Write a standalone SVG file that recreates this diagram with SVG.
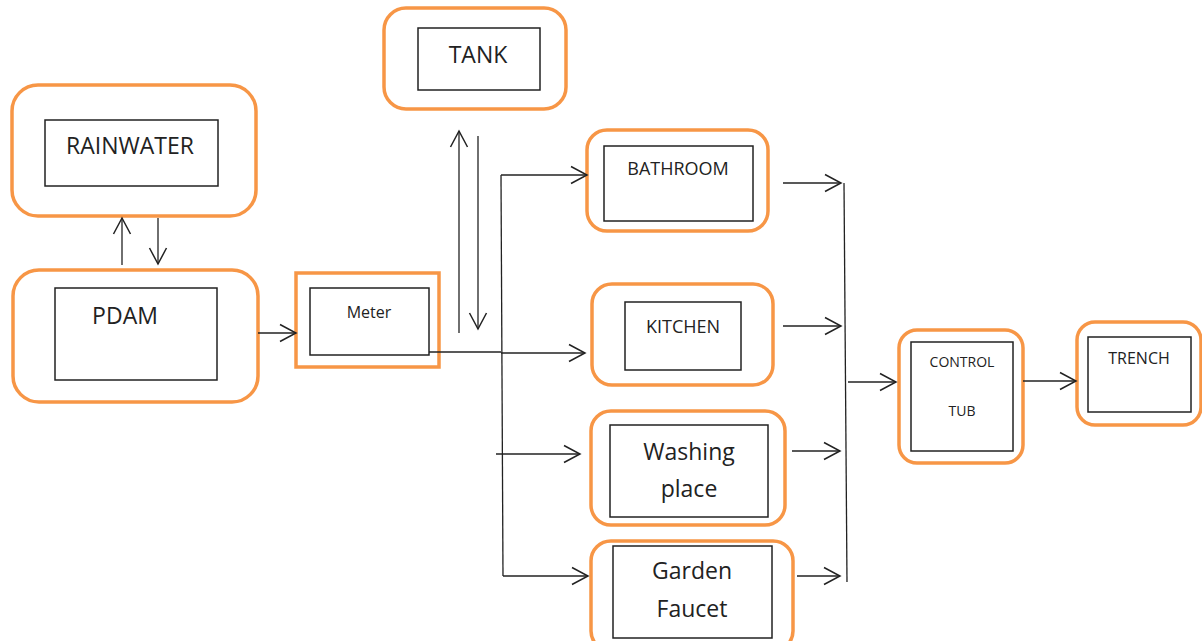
<svg xmlns="http://www.w3.org/2000/svg" width="1202" height="641" viewBox="0 0 1202 641">
<defs>
<marker id="arr" markerUnits="userSpaceOnUse" markerWidth="20" markerHeight="20" viewBox="0 0 20 20" refX="17" refY="10" orient="auto">
<path d="M1,1.5 L17,10 L1,18.5" fill="none" stroke="#222" stroke-width="1.5"/>
</marker>
<style>
.outer{fill:#fff;stroke:#F79646;stroke-width:3.5}
.inner{fill:#fff;stroke:#222;stroke-width:1.5}
.t{font-family:"Open Sans","Liberation Sans",sans-serif;fill:#222;text-anchor:middle}
.c{fill:none;stroke:#222;stroke-width:1.3}
.a{fill:none;stroke:#222;stroke-width:1.3;marker-end:url(#arr)}
</style>
</defs>
<rect width="1202" height="641" fill="#fff"/>
<g id="rainwater">
<rect class="outer" x="12" y="85" width="244" height="131" rx="26"/>
<rect class="inner" x="45" y="120" width="173" height="66"/>
<text class="t" x="130" y="154" font-size="23">RAINWATER</text>
</g>
<g id="pdam">
<rect class="outer" x="13" y="270" width="245" height="132" rx="26"/>
<rect class="inner" x="55" y="288" width="162" height="92"/>
<text class="t" x="125" y="324" font-size="23">PDAM</text>
</g>
<g id="meter">
<rect class="outer" x="296" y="273" width="143" height="94"/>
<rect class="inner" x="310" y="288" width="119" height="67"/>
<text class="t" x="369" y="318" font-size="16">Meter</text>
</g>
<g id="tank">
<rect class="outer" x="384" y="8" width="182" height="101" rx="22"/>
<rect class="inner" x="418" y="28" width="122" height="62"/>
<text class="t" x="478" y="63" font-size="23">TANK</text>
</g>
<g id="bathroom">
<rect class="outer" x="587" y="130" width="181" height="101" rx="20"/>
<rect class="inner" x="604" y="146" width="149" height="75"/>
<text class="t" x="678" y="175" font-size="18">BATHROOM</text>
</g>
<g id="kitchen">
<rect class="outer" x="592" y="284" width="181" height="101" rx="20"/>
<rect class="inner" x="625" y="302" width="116" height="68"/>
<text class="t" x="683" y="333" font-size="18">KITCHEN</text>
</g>
<g id="washing">
<rect class="outer" x="591" y="411" width="194" height="114" rx="20"/>
<rect class="inner" x="610" y="425" width="158" height="92"/>
<text class="t" x="689" y="460" font-size="23">Washing</text>
<text class="t" x="689" y="497" font-size="23">place</text>
</g>
<g id="garden">
<rect class="outer" x="591" y="541" width="202" height="110" rx="20"/>
<rect class="inner" x="613" y="546" width="159" height="92"/>
<text class="t" x="692" y="579" font-size="23">Garden</text>
<text class="t" x="692" y="617" font-size="23">Faucet</text>
</g>
<g id="control-tub">
<rect class="outer" x="899" y="330" width="124" height="133" rx="18"/>
<rect class="inner" x="911" y="342" width="102" height="109"/>
<text class="t" x="962" y="367" font-size="14">CONTROL</text>
<text class="t" x="962" y="416" font-size="14">TUB</text>
</g>
<g id="trench">
<rect class="outer" x="1077" y="322" width="124" height="103" rx="18"/>
<rect class="inner" x="1088" y="337" width="103" height="75"/>
<text class="t" x="1139" y="364" font-size="16">TRENCH</text>
</g>
<g id="connectors">
<line class="a" x1="122" y1="265" x2="122" y2="218"/>
<line class="a" x1="158" y1="218" x2="158" y2="264"/>
<line class="a" x1="258" y1="333" x2="296" y2="333"/>
<line class="a" x1="459" y1="333" x2="459" y2="131"/>
<line class="a" x1="478" y1="136" x2="478" y2="329"/>
<line class="c" x1="429" y1="352" x2="501" y2="352"/>
<line class="a" x1="501" y1="353" x2="585" y2="353"/>
<line class="c" x1="501" y1="175" x2="503" y2="576"/>
<line class="a" x1="501" y1="175" x2="587" y2="175"/>
<line class="a" x1="503" y1="576" x2="588" y2="576"/>
<line class="a" x1="496" y1="454" x2="580" y2="454"/>
<line class="a" x1="783" y1="183" x2="841" y2="183"/>
<line class="a" x1="783" y1="326" x2="841" y2="326"/>
<line class="a" x1="792" y1="451" x2="840" y2="451"/>
<line class="a" x1="797" y1="576" x2="840" y2="576"/>
<line class="c" x1="844" y1="183" x2="847" y2="582"/>
<line class="a" x1="848" y1="382" x2="896" y2="382"/>
<line class="a" x1="1023" y1="381" x2="1076" y2="381"/>
</g>
</svg>
